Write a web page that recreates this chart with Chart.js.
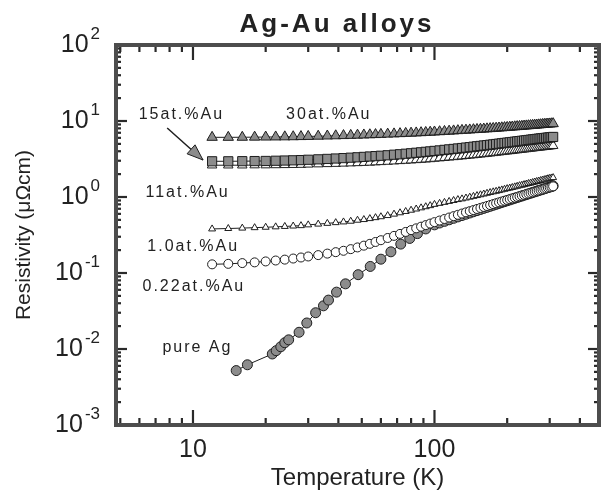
<!DOCTYPE html>
<html>
<head>
<meta charset="utf-8">
<script src="https://cdn.jsdelivr.net/npm/chart.js@4/dist/chart.umd.min.js"></script>
<style>
html,body{margin:0;padding:0;background:#fff;}
#wrap{width:609px;height:495px;position:relative;}
</style>
</head>
<body>
<div id="wrap"><canvas id="c" width="609" height="495"></canvas></div>
<script>
// ---------- data ----------
const temps = [12,14,16,18,20,22,24,26,28,30,33,36,39,42,45,48,51,54,57,60,64,68,72,76,80,84,88,92,96,100,
  105,110,115,120,125,130,135,140,145,150,155,160,165,170,175,180,185,190,195,200,
  205,210,215,220,225,230,235,240,245,250,255,260,265,270,275,280,285,290,295,300,305,310];
const rho30 = [6.10,6.10,6.11,6.13,6.15,6.17,6.19,6.21,6.24,6.27,6.31,6.35,6.39,6.43,6.47,6.51,6.55,6.59,6.63,6.67,
  6.72,6.77,6.82,6.87,6.92,6.97,7.02,7.07,7.12,7.17,
  7.23,7.29,7.35,7.41,7.47,7.53,7.58,7.63,7.69,7.74,7.79,7.84,7.89,7.94,7.99,8.04,8.09,8.14,8.19,8.24,
  8.29,8.34,8.39,8.44,8.48,8.53,8.58,8.62,8.67,8.72,8.76,8.81,8.85,8.90,8.94,8.99,9.03,9.07,9.11,9.15,9.19,9.23];
const rho15 = [2.95,2.95,2.96,2.97,2.98,3.00,3.02,3.04,3.06,3.09,3.13,3.17,3.21,3.25,3.29,3.33,3.37,3.41,3.45,3.49,
  3.54,3.60,3.65,3.71,3.76,3.82,3.87,3.93,3.98,4.04,
  4.10,4.17,4.23,4.29,4.35,4.41,4.47,4.53,4.59,4.65,4.70,4.76,4.81,4.87,4.92,4.98,5.03,5.09,5.14,5.19,
  5.24,5.29,5.34,5.39,5.44,5.49,5.53,5.58,5.63,5.67,5.72,5.76,5.81,5.85,5.89,5.93,5.97,6.01,6.05,6.09,6.13,6.17];
const rho11 = [2.62,2.62,2.62,2.63,2.63,2.64,2.65,2.66,2.67,2.69,2.71,2.73,2.75,2.77,2.79,2.81,2.83,2.85,2.88,2.90,
  2.93,2.96,2.99,3.02,3.05,3.08,3.11,3.14,3.17,3.21,
  3.25,3.29,3.33,3.37,3.41,3.45,3.49,3.53,3.57,3.61,3.65,3.69,3.73,3.77,3.81,3.85,3.89,3.93,3.97,4.01,
  4.04,4.08,4.12,4.15,4.19,4.22,4.26,4.29,4.33,4.36,4.39,4.43,4.46,4.49,4.52,4.55,4.58,4.61,4.64,4.67,4.70,4.73];
const rho1 = [0.380,0.385,0.390,0.395,0.400,0.405,0.410,0.415,0.420,0.430,0.440,0.450,0.460,0.470,0.480,0.495,0.505,0.520,0.535,0.550,
  0.570,0.595,0.620,0.645,0.670,0.695,0.720,0.745,0.770,0.800,
  0.825,0.850,0.875,0.900,0.925,0.945,0.970,0.995,1.020,1.045,1.070,1.095,1.120,1.145,1.170,1.190,1.215,1.240,1.265,1.290,
  1.310,1.335,1.360,1.385,1.410,1.430,1.455,1.480,1.505,1.525,1.550,1.575,1.600,1.620,1.645,1.670,1.690,1.715,1.740,1.760,1.780,1.800];
const rho022 = [0.130,0.132,0.135,0.138,0.142,0.146,0.150,0.155,0.160,0.165,0.172,0.180,0.188,0.196,0.206,0.217,0.229,0.242,0.256,0.270,
  0.289,0.308,0.327,0.347,0.367,0.387,0.407,0.427,0.447,0.467,
  0.490,0.514,0.537,0.560,0.583,0.606,0.628,0.651,0.673,0.696,0.718,0.740,0.762,0.784,0.806,0.828,0.850,0.872,0.894,0.915,
  0.937,0.958,0.980,1.001,1.022,1.044,1.065,1.086,1.107,1.128,1.149,1.170,1.191,1.212,1.233,1.254,1.275,1.296,1.317,1.338,1.359,1.380];
const tempsAg = [15.1,16.8,21.3,22.1,23.1,24.0,24.9,27.5,29.6,32.2,34.7,36.4,39.3,42.8,48.3,54.2,60,66,72.5,79,85,92,100,
  105,110,115,120,125,130,135,140,145,150,155,160,165,170,175,180,185,190,195,200,
  205,210,215,220,225,230,235,240,245,250,255,260,265,270,275,280,285,290,295,300,305,310];
const rhoAg = [0.0052,0.0062,0.0086,0.0095,0.0107,0.0121,0.0132,0.0166,0.022,0.030,0.037,0.044,0.056,0.072,0.095,0.122,0.152,0.19,0.24,0.285,0.33,0.38,0.43,
  0.455,0.478,0.501,0.524,0.547,0.570,0.593,0.616,0.639,0.662,0.685,0.708,0.731,0.754,0.777,0.800,0.823,0.846,0.869,0.892,
  0.915,0.938,0.961,0.984,1.007,1.030,1.053,1.076,1.099,1.122,1.145,1.168,1.191,1.214,1.237,1.260,1.283,1.306,1.329,1.352,1.375,1.398];
const seriesNames = ['30at.%Au','15at.%Au','11at.%Au','1.0at.%Au','0.22at.%Au','pure Ag'];
const xTickLabels = [10, 100];
const xMinorTicks = [5,6,7,8,9,20,30,40,50,60,70,80,90,200,300,400];
const yExponents = [2,1,0,-1,-2,-3];
const yMinorMult = [2,3,4,5,6,7,8,9];

// ---------- layout (not data) ----------
const FONT = '"Liberation Sans", Arial, sans-serif';
const labelAnchors = [
  {text:'15at.%Au',  t:5.96, r:12.0},
  {text:'30at.%Au',  t:24.3, r:12.0},
  {text:'11at.%Au',  t:6.36, r:1.16},
  {text:'1.0at.%Au', t:6.47, r:0.22},
  {text:'0.22at.%Au',t:6.18, r:0.0655},
  {text:'pure Ag',   t:7.47, r:0.0103}
];
const arrowFrom = {t:7.82, r:8.09}, arrowTo = {t:11.0, r:3.07};

function pts(xs, ys){ return xs.map((t,i)=>({x:t, y:ys[i]})); }

const GREY = '#8c8c8c', INK = '#1e1e1e';
function ds(name, xs, ys, style, radius, fill){
  return {label:name, data:pts(xs, ys), showLine:true, borderColor:INK, borderWidth:1,
    pointStyle:style, pointRadius:radius, pointBackgroundColor:fill, pointBorderColor:INK,
    pointBorderWidth:1, backgroundColor:fill, tension:0};
}

const decor = {
  id:'decor',
  afterDraw(chart){
    const {ctx, chartArea:a, scales:{x, y}} = chart;
    ctx.save();
    const line = (x1,y1,x2,y2)=>{ctx.beginPath();ctx.moveTo(x1,y1);ctx.lineTo(x2,y2);ctx.stroke();};
    ctx.strokeStyle = '#2a2a2a'; ctx.lineWidth = 2.2;
    for (const v of xTickLabels){ const p = x.getPixelForValue(v); line(p,a.bottom,p,a.bottom-15); line(p,a.top,p,a.top+15); }
    for (const v of xMinorTicks){ const p = x.getPixelForValue(v); line(p,a.bottom,p,a.bottom-7); line(p,a.top,p,a.top+7); }
    for (const e of yExponents){
      const p = y.getPixelForValue(Math.pow(10,e)); line(a.left,p,a.left+11,p); line(a.right,p,a.right-11,p);
      if (e > -3) for (const m of yMinorMult){ const q = y.getPixelForValue(m*Math.pow(10,e-1)); line(a.left,q,a.left+5,q); line(a.right,q,a.right-5,q); }
    }
    // frame
    ctx.lineWidth = 4; ctx.strokeStyle = '#4d4d4d';
    ctx.strokeRect(a.left, a.top, a.right-a.left, a.bottom-a.top);
    // y tick labels with superscripts
    ctx.fillStyle = '#222'; ctx.textBaseline = 'middle'; ctx.textAlign = 'left';
    for (const e of yExponents){
      const p = y.getPixelForValue(Math.pow(10,e));
      const sup = e < 0 ? '-' + Math.abs(e) : String(e);
      ctx.font = '17px ' + FONT; const sw = ctx.measureText(sup).width;
      const right = 100;
      ctx.fillText(sup, right - sw, p - 11);
      ctx.font = '25px ' + FONT; const bw = ctx.measureText('10').width;
      ctx.fillText('10', right - sw - 2 - bw, p);
    }
    // chart title
    ctx.font = 'bold 26px ' + FONT; ctx.textAlign = 'center'; ctx.textBaseline = 'alphabetic';
    try { ctx.letterSpacing = '3px'; } catch(err) {}
    ctx.fillText('Ag-Au alloys', 337, 32);
    // series labels
    ctx.font = '16px ' + FONT; ctx.textAlign = 'left'; ctx.textBaseline = 'middle';
    try { ctx.letterSpacing = '2px'; } catch(err) {}
    for (const l of labelAnchors){ ctx.fillText(l.text, x.getPixelForValue(l.t), y.getPixelForValue(l.r)); }
    try { ctx.letterSpacing = '0px'; } catch(err) {}
    // arrow
    const x1 = x.getPixelForValue(arrowFrom.t), y1 = y.getPixelForValue(arrowFrom.r);
    const x2 = x.getPixelForValue(arrowTo.t), y2 = y.getPixelForValue(arrowTo.r);
    ctx.strokeStyle = INK; ctx.lineWidth = 1.5; line(x1,y1,x2,y2);
    const ang = Math.atan2(y2-y1, x2-x1), L = 16, W = 6;
    ctx.beginPath(); ctx.moveTo(x2,y2);
    ctx.lineTo(x2 - L*Math.cos(ang) + W*Math.sin(ang), y2 - L*Math.sin(ang) - W*Math.cos(ang));
    ctx.lineTo(x2 - L*Math.cos(ang) - W*Math.sin(ang), y2 - L*Math.sin(ang) + W*Math.cos(ang));
    ctx.closePath(); ctx.fillStyle = GREY; ctx.fill(); ctx.lineWidth = 1; ctx.stroke();
    ctx.restore();
  }
};

new Chart(document.getElementById('c'), {
  type:'scatter',
  data:{datasets:[
    ds(seriesNames[0], temps, rho30, 'triangle', 6, GREY),
    ds(seriesNames[1], temps, rho15, 'rect', 6.5, GREY),
    ds(seriesNames[2], temps, rho11, 'triangle', 5.5, '#ffffff'),
    ds(seriesNames[3], temps, rho1, 'triangle', 4, '#ffffff'),
    ds(seriesNames[4], temps, rho022, 'circle', 4.5, '#ffffff'),
    ds(seriesNames[5], tempsAg, rhoAg, 'circle', 5, GREY)
  ]},
  options:{
    responsive:false, animation:false, devicePixelRatio:1,
    layout:{padding:{left:0, right:6, top:45, bottom:0}},
    plugins:{legend:{display:false}, tooltip:{enabled:false}, title:{display:false}},
    scales:{
      x:{type:'logarithmic', position:'bottom', min:4.8, max:480,
        afterFit(s){ s.height = 70; },
        grid:{display:false, drawTicks:false}, border:{display:false},
        ticks:{autoSkip:false, maxRotation:0, padding:10, color:'#222', font:{family:FONT, size:25},
          callback(v){ return xTickLabels.includes(v) ? String(v) : ''; }},
        title:{display:true, text:'Temperature (K)', color:'#222', font:{family:FONT, size:24}, padding:{top:0, bottom:2}}
      },
      y:{type:'logarithmic', position:'left', min:1e-3, max:1e2,
        afterFit(s){ s.width = 116; },
        grid:{display:false, drawTicks:false}, border:{display:false},
        ticks:{display:false},
        title:{display:true, text:'Resistivity (\u03bc\u03a9cm)', color:'#222', font:{family:FONT, size:21}, padding:{top:12, bottom:0}}
      }
    }
  },
  plugins:[decor]
});
</script>
</body>
</html>
